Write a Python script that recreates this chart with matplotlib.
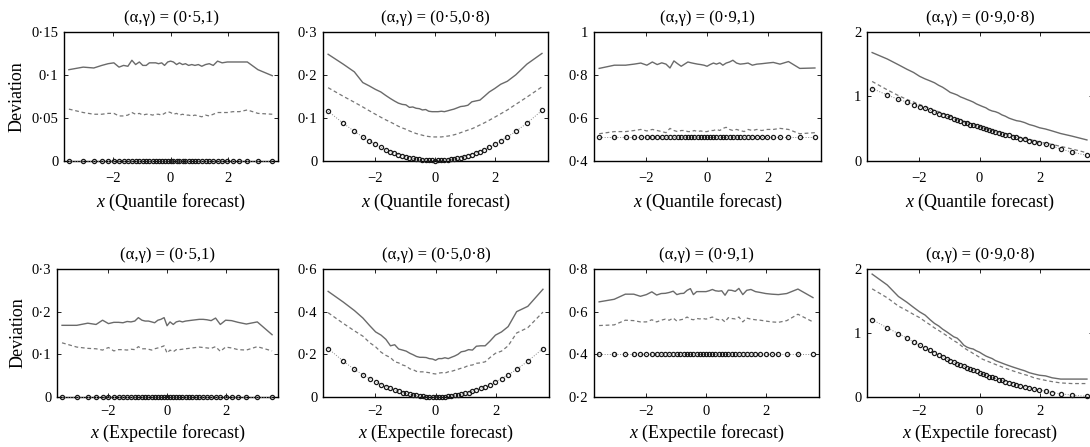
'''Deviation of quantile and expectile forecasts

Recreates the 2 x 4 panel figure of the deviation curves.
'''

# ----------------------------------------------------------------------------
# Modules

from matplotlib import pyplot as plt

# ----------------------------------------------------------------------------
# Data

x_grid = [-3.55, -3.05, -2.68, -2.40, -2.18, -1.98, -1.80, -1.64, -1.49,
          -1.35, -1.22, -1.09, -0.97, -0.85, -0.74, -0.63, -0.52, -0.42,
          -0.31, -0.21, -0.10, 0.00, 0.10, 0.21, 0.31, 0.42, 0.52, 0.63,
          0.74, 0.85, 0.97, 1.09, 1.22, 1.35, 1.49, 1.64, 1.80, 1.98, 2.18,
          2.40, 2.68, 3.05, 3.55]

titles = ['(α,γ) = (0·5,1)', '(α,γ) = (0·5,0·8)',
          '(α,γ) = (0·9,1)', '(α,γ) = (0·9,0·8)']
xlabels = ['Quantile forecast', 'Expectile forecast']

x_ticks = [-2, 0, 2]
x_tick_labels = ['−2', '0', '2']

y_ticks = [[0, 0.05, 0.1, 0.15], [0, 0.1, 0.2, 0.3], [0.4, 0.6, 0.8, 1],
           [0, 1, 2], [0, 0.1, 0.2, 0.3], [0, 0.2, 0.4, 0.6],
           [0.2, 0.4, 0.6, 0.8], [0, 1, 2]]
y_tick_labels = [['0', '0·05', '0·1', '0·15'], ['0', '0·1', '0·2', '0·3'],
                 ['0·4', '0·6', '0·8', '1'], ['0', '1', '2'],
                 ['0', '0·1', '0·2', '0·3'], ['0', '0·2', '0·4', '0·6'],
                 ['0·2', '0·4', '0·6', '0·8'], ['0', '1', '2']]

# Quantile, (0.5, 1)
q1_solid = [0.106, 0.109, 0.108, 0.111, 0.113, 0.114, 0.109, 0.111, 0.110,
            0.117, 0.112, 0.115, 0.111, 0.111, 0.114, 0.114, 0.114, 0.113,
            0.114, 0.111, 0.115, 0.116, 0.115, 0.112, 0.114, 0.112, 0.113,
            0.111, 0.112, 0.111, 0.112, 0.110, 0.112, 0.113, 0.111, 0.116,
            0.114, 0.115, 0.115, 0.115, 0.115, 0.106, 0.099]
q1_dashed = [0.060, 0.056, 0.054, 0.054, 0.055, 0.055, 0.052, 0.052, 0.053,
             0.056, 0.054, 0.055, 0.053, 0.054, 0.054, 0.053, 0.054, 0.054,
             0.053, 0.055, 0.057, 0.056, 0.054, 0.055, 0.053, 0.054, 0.053,
             0.053, 0.052, 0.053, 0.052, 0.051, 0.053, 0.052, 0.054, 0.056,
             0.056, 0.056, 0.057, 0.057, 0.059, 0.055, 0.054]
q1_circ = [0.0] * 43

# Quantile, (0.5, 0.8)
q2_solid = [0.248, 0.225, 0.207, 0.182, 0.174, 0.166, 0.160, 0.152, 0.145,
            0.139, 0.134, 0.131, 0.130, 0.124, 0.125, 0.122, 0.121, 0.118,
            0.119, 0.115, 0.114, 0.114, 0.114, 0.115, 0.114, 0.116, 0.118,
            0.120, 0.123, 0.126, 0.127, 0.129, 0.137, 0.139, 0.141, 0.150,
            0.160, 0.168, 0.178, 0.185, 0.200, 0.225, 0.250]
q2_dashed = [0.170, 0.150, 0.136, 0.125, 0.116, 0.108, 0.101, 0.095, 0.090,
             0.085, 0.080, 0.076, 0.073, 0.069, 0.066, 0.063, 0.061, 0.059,
             0.057, 0.056, 0.055, 0.055, 0.055, 0.055, 0.056, 0.057, 0.058,
             0.060, 0.062, 0.065, 0.068, 0.071, 0.074, 0.078, 0.083, 0.088,
             0.094, 0.101, 0.109, 0.118, 0.131, 0.148, 0.172]
q2_circ = [0.115, 0.087, 0.068, 0.055, 0.046, 0.038, 0.031, 0.025, 0.021,
           0.017, 0.014, 0.011, 0.0087, 0.0067, 0.0050, 0.0036, 0.0025,
           0.0016, 0.0009, 0.0004, 0.0001, 0.0, 0.0001, 0.0004, 0.0009,
           0.0016, 0.0025, 0.0036, 0.0050, 0.0067, 0.0087, 0.011, 0.014,
           0.017, 0.021, 0.025, 0.031, 0.038, 0.046, 0.055, 0.068, 0.087,
           0.117]

# Quantile, (0.9, 1)
q3_solid = [0.830, 0.845, 0.845, 0.850, 0.855, 0.845, 0.860, 0.848, 0.856,
            0.850, 0.832, 0.865, 0.852, 0.840, 0.850, 0.860, 0.856, 0.853,
            0.850, 0.848, 0.845, 0.840, 0.848, 0.855, 0.850, 0.856, 0.845,
            0.855, 0.860, 0.868, 0.855, 0.850, 0.852, 0.855, 0.845, 0.850,
            0.852, 0.855, 0.858, 0.850, 0.862, 0.830, 0.832]
q3_dashed = [0.525, 0.535, 0.535, 0.540, 0.545, 0.538, 0.545, 0.540, 0.535,
             0.530, 0.550, 0.540, 0.535, 0.540, 0.540, 0.535, 0.535, 0.540,
             0.535, 0.538, 0.535, 0.535, 0.540, 0.540, 0.545, 0.540, 0.550,
             0.555, 0.545, 0.540, 0.545, 0.540, 0.535, 0.545, 0.540, 0.545,
             0.540, 0.545, 0.545, 0.550, 0.545, 0.525, 0.530]
q3_circ = [0.51] * 43

# Quantile, (0.9, 0.8)
q4_solid = [1.68, 1.58, 1.49, 1.42, 1.37, 1.31, 1.27, 1.24, 1.21, 1.17, 1.14,
            1.10, 1.06, 1.04, 1.02, 0.99, 0.97, 0.95, 0.93, 0.91, 0.88, 0.86,
            0.84, 0.82, 0.79, 0.77, 0.76, 0.74, 0.71, 0.69, 0.66, 0.64, 0.62,
            0.61, 0.59, 0.56, 0.54, 0.51, 0.49, 0.46, 0.42, 0.38, 0.32]
q4_dashed = [1.23, 1.10, 1.01, 0.95, 0.91, 0.87, 0.84, 0.81, 0.78, 0.76,
             0.73, 0.71, 0.69, 0.67, 0.65, 0.63, 0.61, 0.60, 0.58, 0.56, 0.55,
             0.53, 0.52, 0.50, 0.49, 0.47, 0.46, 0.45, 0.43, 0.42, 0.41, 0.39,
             0.38, 0.36, 0.35, 0.33, 0.31, 0.29, 0.27, 0.25, 0.22, 0.18, 0.12]
q4_circ = [1.12, 1.02, 0.95, 0.91, 0.87, 0.84, 0.81, 0.78, 0.75, 0.73, 0.71,
           0.69, 0.67, 0.65, 0.63, 0.61, 0.59, 0.58, 0.56, 0.55, 0.53, 0.52,
           0.50, 0.49, 0.47, 0.46, 0.44, 0.43, 0.42, 0.40, 0.39, 0.37, 0.36,
           0.34, 0.33, 0.31, 0.29, 0.27, 0.25, 0.22, 0.18, 0.13, 0.08]

# Expectile, (0.5, 1)
e1_solid = [0.168, 0.168, 0.173, 0.170, 0.180, 0.172, 0.175, 0.175, 0.174,
            0.177, 0.176, 0.178, 0.186, 0.180, 0.178, 0.178, 0.176, 0.174,
            0.180, 0.182, 0.186, 0.167, 0.176, 0.170, 0.176, 0.178, 0.176,
            0.178, 0.179, 0.180, 0.181, 0.182, 0.182, 0.181, 0.179, 0.185,
            0.170, 0.180, 0.179, 0.175, 0.171, 0.176, 0.146]
e1_dashed = [0.127, 0.117, 0.114, 0.113, 0.110, 0.116, 0.108, 0.111, 0.111,
             0.110, 0.112, 0.111, 0.118, 0.113, 0.113, 0.112, 0.110, 0.113,
             0.115, 0.117, 0.120, 0.103, 0.110, 0.106, 0.111, 0.111, 0.112,
             0.113, 0.114, 0.115, 0.116, 0.117, 0.116, 0.115, 0.114, 0.118,
             0.107, 0.117, 0.115, 0.111, 0.110, 0.118, 0.108]
e1_circ = [0.0] * 43

# Expectile, (0.5, 0.8)
e2_solid = [0.495, 0.445, 0.405, 0.370, 0.335, 0.305, 0.290, 0.270, 0.240,
            0.245, 0.225, 0.220, 0.215, 0.205, 0.198, 0.190, 0.186, 0.186,
            0.185, 0.180, 0.178, 0.172, 0.180, 0.180, 0.184, 0.180, 0.186,
            0.192, 0.200, 0.212, 0.215, 0.222, 0.220, 0.238, 0.240, 0.240,
            0.262, 0.290, 0.305, 0.330, 0.400, 0.425, 0.505]
e2_dashed = [0.395, 0.345, 0.310, 0.285, 0.255, 0.235, 0.210, 0.195, 0.185,
             0.165, 0.160, 0.150, 0.145, 0.132, 0.128, 0.120, 0.118, 0.118,
             0.116, 0.114, 0.110, 0.108, 0.112, 0.114, 0.112, 0.118, 0.120,
             0.125, 0.130, 0.135, 0.140, 0.148, 0.150, 0.158, 0.160, 0.165,
             0.185, 0.205, 0.215, 0.240, 0.300, 0.325, 0.398]
e2_circ = [0.227, 0.168, 0.129, 0.104, 0.086, 0.071, 0.058, 0.048, 0.040,
           0.033, 0.027, 0.021, 0.017, 0.013, 0.0098, 0.0071, 0.0049, 0.0032,
           0.0017, 0.0008, 0.0002, 0.0, 0.0002, 0.0008, 0.0017, 0.0032,
           0.0049, 0.0071, 0.0098, 0.013, 0.017, 0.021, 0.027, 0.033, 0.040,
           0.048, 0.058, 0.071, 0.086, 0.104, 0.129, 0.168, 0.227]

# Expectile, (0.9, 1)
e3_solid = [0.646, 0.658, 0.682, 0.682, 0.672, 0.680, 0.693, 0.678, 0.685,
            0.686, 0.690, 0.696, 0.680, 0.685, 0.686, 0.700, 0.708, 0.680,
            0.694, 0.694, 0.694, 0.694, 0.698, 0.704, 0.698, 0.696, 0.698,
            0.677, 0.701, 0.700, 0.695, 0.709, 0.680, 0.700, 0.704, 0.694,
            0.690, 0.685, 0.682, 0.680, 0.685, 0.706, 0.666]
e3_dashed = [0.535, 0.538, 0.560, 0.558, 0.552, 0.552, 0.562, 0.552, 0.560,
             0.565, 0.560, 0.570, 0.556, 0.562, 0.565, 0.575, 0.565, 0.562,
             0.568, 0.566, 0.568, 0.565, 0.570, 0.575, 0.566, 0.562, 0.565,
             0.552, 0.572, 0.568, 0.566, 0.575, 0.552, 0.570, 0.565, 0.562,
             0.560, 0.556, 0.552, 0.550, 0.558, 0.588, 0.552]
e3_circ = [0.40] * 43

# Expectile, (0.9, 0.8)
e4_solid = [1.92, 1.75, 1.57, 1.48, 1.40, 1.33, 1.28, 1.21, 1.15, 1.11, 1.06,
            1.02, 0.98, 0.94, 0.92, 0.87, 0.81, 0.78, 0.76, 0.75, 0.72, 0.70,
            0.67, 0.64, 0.62, 0.60, 0.57, 0.55, 0.53, 0.51, 0.49, 0.47, 0.45,
            0.43, 0.41, 0.38, 0.36, 0.34, 0.33, 0.30, 0.28, 0.28, 0.28]
e4_dashed = [1.69, 1.55, 1.42, 1.35, 1.29, 1.24, 1.18, 1.13, 1.08, 1.04,
             1.00, 0.96, 0.92, 0.88, 0.85, 0.81, 0.77, 0.74, 0.71, 0.68, 0.65,
             0.62, 0.59, 0.57, 0.55, 0.53, 0.51, 0.49, 0.47, 0.45, 0.43, 0.41,
             0.39, 0.37, 0.35, 0.33, 0.30, 0.28, 0.26, 0.24, 0.22, 0.21, 0.21]
e4_circ = [1.21, 1.08, 0.99, 0.92, 0.86, 0.81, 0.77, 0.73, 0.69, 0.66, 0.63,
           0.60, 0.57, 0.55, 0.52, 0.50, 0.48, 0.46, 0.44, 0.42, 0.40, 0.38,
           0.36, 0.34, 0.32, 0.31, 0.29, 0.27, 0.26, 0.24, 0.22, 0.21, 0.19,
           0.17, 0.16, 0.14, 0.12, 0.11, 0.09, 0.07, 0.05, 0.03, 0.01]

# ----------------------------------------------------------------------------


def deviation_plot():
    """Plots the eight deviation panels and saves them in out.png."""

    plt.rcParams['font.family'] = ['Liberation Serif', 'DejaVu Serif']
    plt.rcParams['mathtext.fontset'] = 'custom'
    plt.rcParams['mathtext.it'] = 'Liberation Serif:italic'
    plt.rcParams['mathtext.rm'] = 'Liberation Serif'

    solids = [q1_solid, q2_solid, q3_solid, q4_solid,
              e1_solid, e2_solid, e3_solid, e4_solid]
    dashes = [q1_dashed, q2_dashed, q3_dashed, q4_dashed,
              e1_dashed, e2_dashed, e3_dashed, e4_dashed]
    circs = [q1_circ, q2_circ, q3_circ, q4_circ,
             e1_circ, e2_circ, e3_circ, e4_circ]

    # Axes boxes in pixels: left, top, width, height
    boxes = [(64, 32, 214, 128.5), (323, 32, 225, 128.5),
             (594, 32, 227, 128.5), (867, 32, 226, 128.5),
             (57, 269, 221, 128), (323, 269, 226, 128),
             (594, 269, 225, 128), (867, 269, 226, 128)]

    W, H = 1090, 447
    figure = plt.figure(figsize=(W / 100, H / 100), dpi=100)

    for i in range(8):
        left, top, w, h = boxes[i]
        ax = figure.add_axes([left / W, 1 - (top + h) / H, w / W, h / H])

        ax.plot(x_grid, solids[i], color='#6a6a6a', linewidth=1.0)
        ax.plot(x_grid, dashes[i], color='#777777', linewidth=0.9,
                dashes=(3, 2.2))
        ax.plot(x_grid, circs[i], color='#8a8a8a', linewidth=0.7,
                linestyle=':', marker='o', markersize=3.0,
                markerfacecolor='none', markeredgecolor='#1a1a1a',
                markeredgewidth=0.9, clip_on=False, zorder=3)

        yt = y_ticks[i]
        ax.set_xlim(-3.72, 3.75)
        ax.set_ylim(yt[0], yt[-1])
        ax.set_xticks(x_ticks)
        ax.set_xticklabels(x_tick_labels, fontsize=10.5)
        ax.set_yticks(yt)
        ax.set_yticklabels(y_tick_labels[i], fontsize=10.5)
        ax.tick_params(direction='in', length=3, width=0.6, top=True,
                       right=True)
        ax.tick_params(axis='y', pad=4)
        for side in ax.spines.values():
            side.set_linewidth(1.0)

        ax.set_title(titles[i % 4], fontsize=12, pad=7)
        if i < 4:
            ax.tick_params(axis='x', pad=8)
            ax.set_xlabel(r'$x$ (' + xlabels[0] + ')', fontsize=13,
                          labelpad=5)
        else:
            ax.tick_params(axis='x', pad=6)
            ax.set_xlabel(r'$x$ (' + xlabels[1] + ')', fontsize=13,
                          labelpad=3)
        if i % 4 == 0:
            ax.set_ylabel('Deviation', fontsize=13, labelpad=4)

    # Save Plot
    figure.savefig('out.png', dpi=100)

    return None

# ----------------------------------------------------------------------------


def main():

    deviation_plot()

    return None

# ----------------------------------------------------------------------------


if __name__ == "__main__":
    main()
